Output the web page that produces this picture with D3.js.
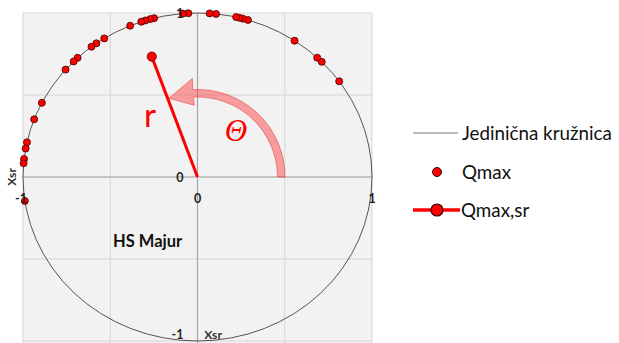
<!DOCTYPE html>
<html>
<head>
<meta charset="utf-8">
<script src="https://cdn.jsdelivr.net/npm/d3@7"></script>
<style>
  html, body { margin: 0; padding: 0; background: #ffffff; }
  svg { display: block; }
</style>
</head>
<body>
<svg id="chart" width="619" height="343"></svg>
<script>
// Direction angles (degrees) of the individual Qmax vectors on the unit circle
const qmaxAngles = [35.7, 44.6, 46.7, 56.2, 73.2, 74.9, 76.1, 77.2, 83.9, 86.0,
                    93.0, 94.8, 104.4, 105.7, 107.4, 108.8, 112.7, 122.3, 125.4, 127.4,
                    133.4, 135.2, 139.1, 153.1, 159.4, 167.8, 170.0, 173.7, 175.2, 188.4];
// Mean vector Qmax,sr (Xsr, Ysr)
const qmaxSr = [-0.262, 0.734];
// Axis ticks
const xTicks = [-1, 0, 1];
const yTicks = [-1, 0, 1];
const gridTicks = [-1, -0.5, 0, 0.5, 1];
// Legend entries
const legendLabels = ["Jedinična kružnica", "Qmax", "Qmax,sr"];

const svg = d3.select("#chart");
const x = d3.scaleLinear().domain([-1, 1]).range([23, 372]);
const y = d3.scaleLinear().domain([-1, 1]).range([341, 13]);
const font = "Lato, 'Open Sans', sans-serif";

// plot background
svg.append("rect")
  .attr("x", x(-1)).attr("y", y(1))
  .attr("width", x(1) - x(-1)).attr("height", 343 - y(1))
  .attr("fill", "#f2f2f2");

// grid
svg.append("g").selectAll("line").data(gridTicks).join("line")
  .attr("x1", d => x(d)).attr("x2", d => x(d))
  .attr("y1", y(1)).attr("y2", 343)
  .attr("stroke", "#d6d6d6").attr("stroke-width", 1);
svg.append("g").selectAll("line").data(gridTicks).join("line")
  .attr("x1", x(-1)).attr("x2", x(1))
  .attr("y1", d => y(d)).attr("y2", d => y(d))
  .attr("stroke", "#d6d6d6").attr("stroke-width", 1);

// zero axes
svg.append("line")
  .attr("x1", x(-1)).attr("x2", x(1)).attr("y1", y(0)).attr("y2", y(0))
  .attr("stroke", "#a6a6a6").attr("stroke-width", 1.2);
svg.append("line")
  .attr("x1", x(0)).attr("x2", x(0)).attr("y1", y(1)).attr("y2", 343)
  .attr("stroke", "#a6a6a6").attr("stroke-width", 1.2);

// unit circle
svg.append("ellipse")
  .attr("cx", x(0)).attr("cy", y(0))
  .attr("rx", x(1) - x(0)).attr("ry", y(0) - y(1))
  .attr("fill", "none").attr("stroke", "#555").attr("stroke-width", 1);

// angle arrow (theta)
const cx = x(0), cy = y(0);
const pt = (r, a) => {
  const t = a * Math.PI / 180;
  return [cx + r * Math.cos(t), cy - r * Math.sin(t)];
};
const rMid = (x(0.5) - x(0)) * 0.96;
const rIn = rMid - 3.8, rOut = rMid + 3.8;
const aBase = 93, aTip = 110;
const p = d3.path();
let s = pt(rOut, 0); p.moveTo(s[0], s[1]);
p.arc(cx, cy, rOut, 0, -aBase * Math.PI / 180, true);
s = pt(rMid + 15, aBase); p.lineTo(s[0], s[1]);
s = pt(rMid, aTip); p.lineTo(s[0], s[1]);
s = pt(rMid - 12, aBase - 0.5); p.lineTo(s[0], s[1]);
s = pt(rIn, aBase); p.lineTo(s[0], s[1]);
p.arc(cx, cy, rIn, -aBase * Math.PI / 180, 0, false);
p.closePath();
svg.append("path").attr("d", p.toString())
  .attr("fill", "rgba(250,70,70,0.5)")
  .attr("stroke", "rgba(235,60,60,0.55)").attr("stroke-width", 1);

svg.append("text")
  .attr("x", 236).attr("y", 141)
  .attr("text-anchor", "middle")
  .attr("font-family", "'Liberation Serif', 'DejaVu Serif', serif")
  .attr("font-style", "italic").attr("font-size", 31)
  .attr("fill", "#ff0000").text("Θ");

// mean vector
svg.append("line")
  .attr("x1", x(0)).attr("y1", y(0))
  .attr("x2", x(qmaxSr[0])).attr("y2", y(qmaxSr[1]))
  .attr("stroke", "#ff0000").attr("stroke-width", 3);
svg.append("circle")
  .attr("cx", x(qmaxSr[0])).attr("cy", y(qmaxSr[1])).attr("r", 4.6)
  .attr("fill", "#ff0000").attr("stroke", "#600").attr("stroke-width", 0.8);
svg.append("text")
  .attr("x", 150).attr("y", 127)
  .attr("text-anchor", "middle")
  .attr("font-family", font).attr("font-size", 33)
  .attr("fill", "#ff0000").text("r");

// Qmax points
svg.append("g").selectAll("circle").data(qmaxAngles).join("circle")
  .attr("cx", d => x(Math.cos(d * Math.PI / 180)))
  .attr("cy", d => y(Math.sin(d * Math.PI / 180)))
  .attr("r", 3.5)
  .attr("fill", "#ff0000").attr("stroke", "#3a0000").attr("stroke-width", 0.8);

// tick labels
const tickFont = { family: font, size: 12.5, weight: "bold" };
svg.append("g").selectAll("text").data(xTicks).join("text")
  .attr("x", d => x(d) - (d < 0 ? 2 : 0)).attr("y", y(0) + 26)
  .attr("text-anchor", "middle")
  .attr("font-family", tickFont.family).attr("font-size", tickFont.size)
  .attr("font-weight", tickFont.weight).attr("fill", "#222")
  .text(d => d);
svg.append("g").selectAll("text").data(yTicks).join("text")
  .attr("x", x(0) - 14).attr("y", d => d === -1 ? 339 : y(d) + 5)
  .attr("text-anchor", "end")
  .attr("font-family", tickFont.family).attr("font-size", tickFont.size)
  .attr("font-weight", tickFont.weight).attr("fill", "#222")
  .text(d => d);

// axis titles
svg.append("text")
  .attr("transform", `translate(16,${y(0)}) rotate(-90)`)
  .attr("text-anchor", "middle")
  .attr("font-family", font).attr("font-size", 12).attr("font-weight", "bold")
  .attr("fill", "#333").text("Xsr");
svg.append("text")
  .attr("x", 213).attr("y", 339)
  .attr("text-anchor", "middle")
  .attr("font-family", font).attr("font-size", 12).attr("font-weight", "bold")
  .attr("fill", "#333").text("Xsr");

// station name
svg.append("text")
  .attr("x", 113).attr("y", 247)
  .attr("font-family", font).attr("font-size", 16.5).attr("font-weight", "bold")
  .attr("fill", "#111").text("HS Majur");

// legend
const lg = svg.append("g").attr("font-family", font).attr("font-size", 18.8).attr("fill", "#111");
lg.append("line").attr("x1", 413).attr("x2", 458).attr("y1", 133).attr("y2", 133)
  .attr("stroke", "#777").attr("stroke-width", 1);
lg.append("text").attr("x", 462).attr("y", 140).text(legendLabels[0]);
lg.append("circle").attr("cx", 437).attr("cy", 172).attr("r", 4.5)
  .attr("fill", "#ff0000").attr("stroke", "#300").attr("stroke-width", 1);
lg.append("text").attr("x", 462).attr("y", 179).text(legendLabels[1]);
lg.append("line").attr("x1", 413).attr("x2", 460).attr("y1", 210).attr("y2", 210)
  .attr("stroke", "#ff0000").attr("stroke-width", 3.5);
lg.append("circle").attr("cx", 437).attr("cy", 210).attr("r", 6)
  .attr("fill", "#ff0000").attr("stroke", "#300").attr("stroke-width", 1.2);
lg.append("text").attr("x", 461).attr("y", 217).text(legendLabels[2]);
</script>
</body>
</html>
